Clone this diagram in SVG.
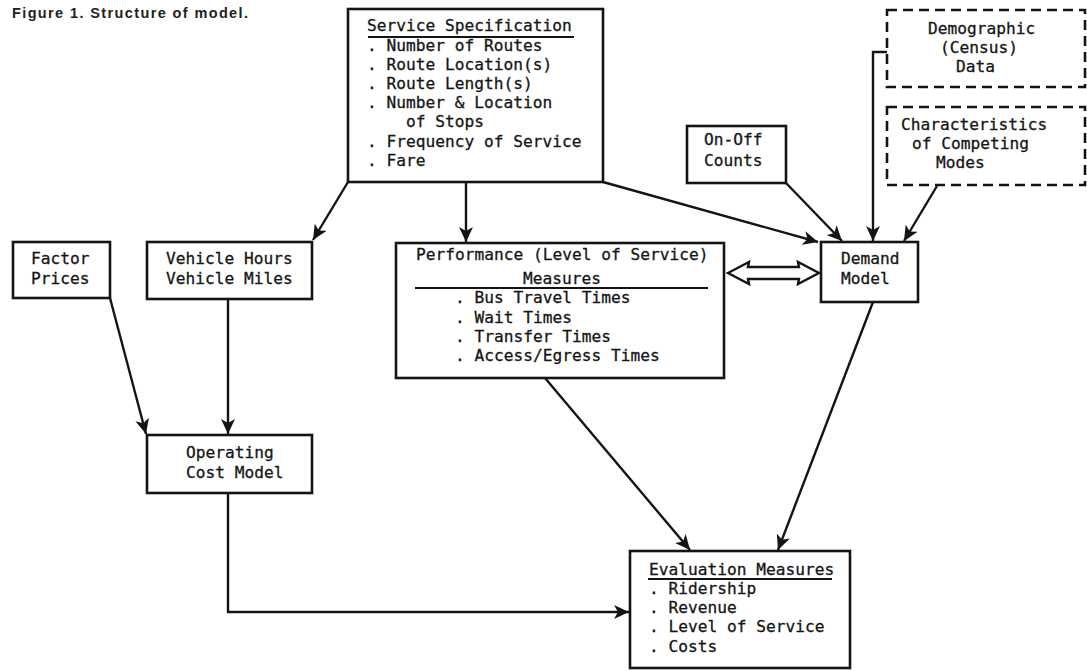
<svg xmlns="http://www.w3.org/2000/svg" width="1087" height="671" viewBox="0 0 1087 671">
<defs>
<style>
.box{fill:#fff;stroke:#141414;stroke-width:2.6}
.dash{fill:#fff;stroke:#141414;stroke-width:2.6;stroke-dasharray:10 6}
.t{font-family:"DejaVu Sans Mono","Liberation Mono",monospace;font-size:16.2px;fill:#161616;stroke:#161616;stroke-width:0.3}
.ul{stroke:#141414;stroke-width:2}
.c{fill:none;stroke:#141414;stroke-width:2.4;marker-end:url(#ah)}
.title{font-family:"Liberation Sans",Arial,sans-serif;font-weight:bold;font-size:14.5px;fill:#222}
</style>
<marker id="ah" markerUnits="userSpaceOnUse" markerWidth="16" markerHeight="14" refX="15" refY="7" orient="auto">
<path d="M0,0 L15,7 L0,14 L4,7 Z" fill="#141414"/>
</marker>
</defs>
<rect width="1087" height="671" fill="#fff"/>
<text class="title" x="12" y="18" textLength="236" lengthAdjust="spacing">Figure 1.  Structure of model.</text>

<g id="connectors">
<path class="c" d="M348,182 L313,240"/>
<path class="c" d="M466,182 V242"/>
<path class="c" d="M603,182 L818,242"/>
<path class="c" d="M786,183 L842,241"/>
<path class="c" d="M887,52 H873 V241"/>
<path class="c" d="M937,186 L904,241"/>
<path class="c" d="M110,298 L146,434"/>
<path class="c" d="M228,299 V434"/>
<path class="c" d="M545,378 L690,550"/>
<path class="c" d="M873,302 L778,550"/>
<path class="c" d="M228,493 V612 H629"/>
<path d="M728,273 L749,262 L748,267 L799,267 L798,262 L819,273 L798,284 L799,279 L748,279 L749,284 Z" fill="#fff" stroke="#141414" stroke-width="2.4" stroke-linejoin="miter"/>
</g>

<g id="service-specification">
<rect class="box" x="348" y="9" width="255" height="173"/>
<text class="t" x="367" y="31">Service Specification</text>
<line class="ul" x1="368" y1="37" x2="574" y2="37"/>
<text class="t" x="367" y="51">. Number of Routes</text>
<text class="t" x="367" y="70">. Route Location(s)</text>
<text class="t" x="367" y="89">. Route Length(s)</text>
<text class="t" x="367" y="108">. Number &amp; Location</text>
<text class="t" x="406" y="127">of Stops</text>
<text class="t" x="367" y="147">. Frequency of Service</text>
<text class="t" x="367" y="166">. Fare</text>
</g>

<g id="demographic-data">
<rect class="dash" x="887" y="10" width="198" height="77"/>
<text class="t" x="928" y="34">Demographic</text>
<text class="t" x="940" y="53">(Census)</text>
<text class="t" x="956" y="72">Data</text>
</g>

<g id="competing-modes">
<rect class="dash" x="887" y="107" width="198" height="78"/>
<text class="t" x="901" y="130">Characteristics</text>
<text class="t" x="912" y="149">of Competing</text>
<text class="t" x="936" y="168">Modes</text>
</g>

<g id="on-off-counts">
<rect class="box" x="687" y="126" width="99" height="57"/>
<text class="t" x="704" y="145">On-Off</text>
<text class="t" x="704" y="166">Counts</text>
</g>

<g id="factor-prices">
<rect class="box" x="13" y="242" width="97" height="56"/>
<text class="t" x="31" y="264">Factor</text>
<text class="t" x="31" y="284">Prices</text>
</g>

<g id="vehicle-hours-miles">
<rect class="box" x="147" y="242" width="165" height="57"/>
<text class="t" x="166" y="264">Vehicle Hours</text>
<text class="t" x="166" y="284">Vehicle Miles</text>
</g>

<g id="performance-measures">
<rect class="box" x="396" y="243" width="328" height="135"/>
<text class="t" x="416" y="260">Performance (Level of Service)</text>
<text class="t" x="523" y="284">Measures</text>
<line class="ul" x1="415" y1="288" x2="708" y2="288"/>
<text class="t" x="455" y="303">. Bus Travel Times</text>
<text class="t" x="455" y="323">. Wait Times</text>
<text class="t" x="455" y="342">. Transfer Times</text>
<text class="t" x="455" y="361">. Access/Egress Times</text>
</g>

<g id="demand-model">
<rect class="box" x="821" y="242" width="97" height="60"/>
<text class="t" x="841" y="264">Demand</text>
<text class="t" x="841" y="284">Model</text>
</g>

<g id="operating-cost-model">
<rect class="box" x="147" y="435" width="165" height="58"/>
<text class="t" x="186" y="458">Operating</text>
<text class="t" x="186" y="478">Cost Model</text>
</g>

<g id="evaluation-measures">
<rect class="box" x="630" y="551" width="220" height="117"/>
<text class="t" x="649" y="575">Evaluation Measures</text>
<line class="ul" x1="648" y1="579" x2="832" y2="579"/>
<text class="t" x="649" y="594">. Ridership</text>
<text class="t" x="649" y="613">. Revenue</text>
<text class="t" x="649" y="632">. Level of Service</text>
<text class="t" x="649" y="652">. Costs</text>
</g>
</svg>
